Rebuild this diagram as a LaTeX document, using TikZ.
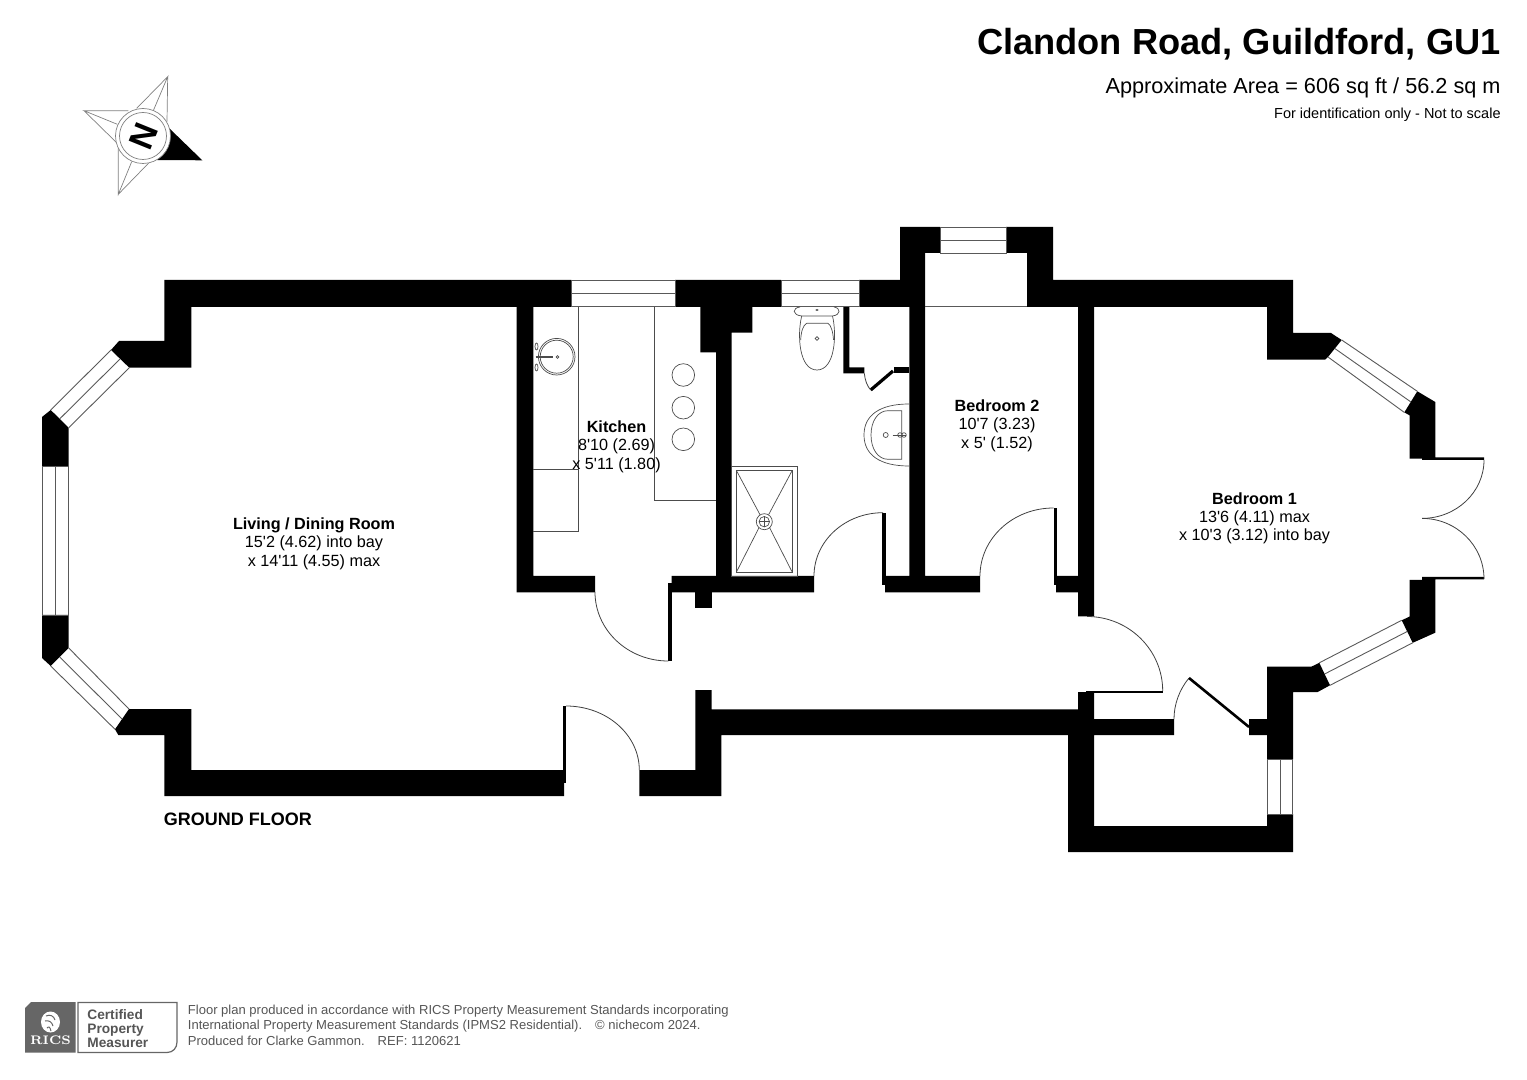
\documentclass[tikz,border=0pt]{standalone}
\usepackage{fontspec}
\newfontfamily\lib{Liberation Sans}
\definecolor{footgray}{HTML}{555555}
\definecolor{logogray}{HTML}{666666}
\tikzset{
  wall/.style={fill=black,draw=none},
  thinl/.style={draw=black!75,line width=0.4pt},
  winl/.style={draw=black!65,line width=0.45pt},
  fixt/.style={draw=black!70,line width=0.35pt},
  star/.style={draw=black!50,line width=0.35pt},
  roomlabel/.style={font=\lib\fontsize{8.1}{9.15}\selectfont,align=center,inner sep=0pt},
  titletext/.style={anchor=base east,inner sep=0pt},
  foot/.style={font=\lib\fontsize{6.52}{7.8}\selectfont,text=footgray,align=left,anchor=north west,inner sep=0pt}
}
\newcommand\doorarc[4]{\draw[thinl] (#1,#2) .. controls (#1,{#2+.5523*(#4-#2)}) and ({#3-.5523*(#3-#1)},#4) .. (#3,#4);}
\begin{document}
\begin{tikzpicture}[x=0.5pt,y=-0.5pt]
\useasboundingbox (0,0) rectangle (1527,1080);
% title
\node[titletext,font=\lib\bfseries\fontsize{18.12}{20}\selectfont] (title) at (1501,55) {Clandon Road, Guildford, GU1};
\node[titletext,font=\lib\fontsize{10.85}{12}\selectfont] (area) at (1501,94) {Approximate Area = 606 sq ft / 56.2 sq m};
\node[titletext,font=\lib\fontsize{7.25}{9}\selectfont] (ident) at (1501,119) {For identification only - Not to scale};
% compass
\draw[star] (136.7,108.3)--(167.7,76.7)--(153.3,110.7) (167.7,76.7)--(167,121.7);
\draw[star] (128.3,110.7)--(84,110.7)--(117.3,124.3) (84,110.7)--(120,146);
\draw[star] (118.3,148.3)--(118.3,194.3)--(131.7,161.7) (118.3,194.3)--(150,161.7);
\fill[black] (169.3,128.3)--(202.3,160.3)--(156.7,160)--cycle;
\draw[star,fill=white] (143,136) circle[radius=27.5];
\draw[star] (143,136) circle[radius=23.5];
\node[font=\lib\bfseries\fontsize{17}{17}\selectfont,rotate=-112,inner sep=0pt] (north) at (143.5,136.5) {N};
% walls
\fill[wall] (42,466)--(42,417)--(50.7,410)--(68.7,427.7)--(68.7,466)--cycle;
\fill[wall] (111,350)--(119,341)--(164.3,341)--(164.3,280)--(571.3,280)--(571.3,307)--(191.3,307)--(191.3,367.7)--(129.3,367.7)--cycle;
\fill[wall] (42,615)--(68.7,615)--(68.7,648)--(50.7,666)--(42,658)--cycle;
\fill[wall] (129,709)--(191.3,709)--(191.3,770)--(564,770)--(564,796)--(164.3,796)--(164.3,735)--(118.3,735)--(115,729.3)--cycle;
\fill[wall] (516.7,307)--(533.3,307)--(533.3,576)--(595,576)--(595,592.3)--(516.7,592.3)--cycle;
\fill[wall] (675,280)--(781,280)--(781,307)--(752.3,307)--(752.3,332.7)--(731.7,332.7)--(731.7,576)--(814,576)--(814,592.3)--(671.5,592.3)--(671.5,576)--(716,576)--(716,352.3)--(700.3,352.3)--(700.3,307)--(675,307)--cycle;
\fill[wall] (695.3,592)rectangle(711.7,608.3);
\fill[wall] (668.3,583)rectangle(671.7,661);
\fill[wall] (639.3,770)--(695.3,770)--(695.3,690)--(711.7,690)--(711.7,709.3)--(1078,709.3)--(1078,692)--(1094,692)--(1094,719)--(1174,719)--(1174,735)--(1094,735)--(1094,826)--(1267,826)--(1267,814)--(1293,814)--(1293,852)--(1068,852)--(1068,735)--(721.3,735)--(721.3,796)--(639.3,796)--cycle;
\fill[wall] (1085.7,690.6)rectangle(1162.7,693);
\fill[wall] (859,280)--(900,280)--(900,227)--(940,227)--(940,253)--(925,253)--(925,576)--(980,576)--(980,592.3)--(885,592.3)--(885,576)--(909.3,576)--(909.3,307)--(859,307)--cycle;
\fill[wall] (1006,227)--(1053,227)--(1053,280)--(1293,280)--(1293,333)--(1331,333)--(1341.7,340)--(1328,357)--(1325,359.7)--(1267,359.7)--(1267,307)--(1094,307)--(1094,616.5)--(1078,616.5)--(1078,592.3)--(1056,592.3)--(1056,576)--(1078,576)--(1078,307)--(1027,307)--(1027,253)--(1006,253)--cycle;
\fill[wall] (1053.5,508)rectangle(1057,585);
\fill[wall] (882.3,512.7)rectangle(885.7,585);
\fill[wall] (563.3,706)rectangle(566,783);
\fill[wall] (1417.3,391.3)--(1435.3,402)--(1435.3,457.5)--(1484,457.5)--(1484,460)--(1422,460)--(1422,458.6)--(1409.7,458.6)--(1409.7,415.4)--(1404.3,412.4)--cycle;
\fill[wall] (1422,580)--(1422,577)--(1484,577)--(1484,579.5)--(1435.3,579.5)--(1435.3,632.7)--(1412.7,642.8)--(1401.7,620.3)--(1409.7,616.5)--(1409.7,580)--cycle;
\fill[wall] (1311.7,666.5)--(1319.3,662.8)--(1330,685.3)--(1317.7,692)--(1293,692)--(1293,759.4)--(1267,759.4)--(1267,735)--(1249,735)--(1249,719)--(1267,719)--(1267,666.5)--cycle;
% cupboard
\fill[wall] (843.3,307)--(849.3,307)--(849.3,367.3)--(864.3,367.3)--(864.3,373.3)--(843.3,373.3)--cycle;
\fill[wall] (894.3,367.3)rectangle(909.3,373.3);
\draw[black,line width=1.6pt] (893,371)--(870.7,390);
\draw[thinl] (864.3,373.3) .. controls (865,380) and (867,386) .. (870.7,390);
% windows
\draw[winl] (571.3,280.5)rectangle(675,306.7) (571.3,293.3)--(675,293.3);
\draw[winl] (781,280.5)rectangle(859,306.7) (781,293.3)--(859,293.3);
\draw[winl] (940,227.5)rectangle(1006,253) (940,240)--(1006,240);
\draw[winl] (42.3,466)rectangle(68.7,615) (55.5,466)--(55.5,615);
\draw[winl] (1267.3,759.4)rectangle(1292.7,814) (1280,759.4)--(1280,814);
\draw[winl] (111,350)--(50.7,410) (129.3,367.7)--(68.7,427.7) (120.2,358.8)--(59.7,418.9);
\draw[winl] (68.7,648)--(129,709) (50.7,666)--(115,729.3) (59.7,657)--(122,719);
\draw[winl] (1341.7,340)--(1417.3,391.3) (1328,357)--(1404.3,412.4) (1334.8,348.5)--(1410.8,401.9);
\draw[winl] (1319.3,662.8)--(1401.7,620.3) (1330,685.3)--(1412.7,642.8) (1324.6,674)--(1407.2,631.5);
\draw[winl] (925,306.5)--(1027,306.5);
% doors
\doorarc{595}{592}{668.3}{661}
\doorarc{639.3}{770}{566}{706}
\doorarc{814}{576}{883}{512.7}
\doorarc{980}{576}{1053.5}{508}
\doorarc{1162.7}{691}{1087}{616.5}
\doorarc{1484}{460}{1422}{518.4}
\doorarc{1484}{579}{1422}{518.4}
\draw[thinl] (1174,719) .. controls (1174,705) and (1179,690) .. (1189,678);
\draw[black,line width=1.3pt] (1189,678)--(1249,727);
% kitchen units
\draw[fixt] (578.3,307)--(578.3,531)--(533.3,531) (533.3,469.3)--(578.3,469.3);
\draw[fixt] (654.7,307)--(654.7,500)--(716,500);
\draw[fixt] (683.3,375) circle[radius=11.3] (683.3,407.7) circle[radius=11.3] (683.3,439.3) circle[radius=11.3];
\draw[fixt] (556.7,356.7) circle[radius=18.3] (556.7,356.7) circle[radius=16.5];
\draw[black!70,line width=0.9pt] (535.5,357)--(553,357);
\draw[fixt] (557.5,357) circle[radius=1.4];
\draw[fixt] (536.5,346.5) ellipse[x radius=1.5,y radius=3.5] (536.5,367.5) ellipse[x radius=1.5,y radius=3.5];
% toilet
\draw[fixt] (800,307) .. controls (792,308) and (792,315) .. (801.7,316) -- (832.5,316) .. controls (841,315) and (841,308) .. (834,307);
\draw[fixt] (801.7,316) .. controls (797,335) and (799,370) .. (817,370) .. controls (835,370) and (837,335) .. (832.5,316);
\draw[fixt] (800.7,340) .. controls (801,332) and (803,325) .. (806.7,323.3) -- (828,323.3) .. controls (831,325) and (833,332) .. (833.5,340);
\draw[fixt] (817,338.5) circle[radius=1.9];
\fill[black!70] (817,310) ellipse[x radius=1.7,y radius=1];
% basin
\draw[fixt] (909,404) .. controls (880,404) and (864,415) .. (864,435) .. controls (864,455) and (880,466) .. (909,466);
\draw[fixt] (901.7,410.7) -- (888,410.7) .. controls (878,410.7) and (871,421) .. (871,435) .. controls (871,449) and (878,459.3) .. (888,459.3) -- (901.7,459.3) -- cycle;
\draw[fixt] (885.7,435) circle[radius=2.5] (900,435) circle[radius=2.3] (904,435) circle[radius=2.3];
\draw[fixt] (892.7,435) -- (906,435);
% shower
\draw[fixt] (731.7,466)rectangle(797.3,576);
\draw[fixt,line width=0.55pt] (736.3,470.3)rectangle(792.3,572.3);
\draw[fixt] (764.3,521.7) circle[radius=8] (764.3,521.7) circle[radius=5.2];
\draw[fixt] (759.1,521.7)--(769.5,521.7) (764.3,516.5)--(764.3,526.9);
\draw[fixt] (736.3,470.3)--(760,514.7) (792.3,470.3)--(768.6,514.7) (736.3,572.3)--(759,527.7) (792.3,572.3)--(769.6,527.7);
% labels
\node[roomlabel] (living) at (314,543.7) {{\bfseries Living / Dining Room}\\15'2 (4.62) into bay\\x 14'11 (4.55) max};
\node[roomlabel] (kitchen) at (616.5,446.7) {{\bfseries Kitchen}\\8'10 (2.69)\\x 5'11 (1.80)};
\node[roomlabel] (bed2) at (997,425.7) {{\bfseries Bedroom 2}\\10'7 (3.23)\\x 5' (1.52)};
\node[roomlabel] (bed1) at (1254.5,518.5) {{\bfseries Bedroom 1}\\13'6 (4.11) max\\x 10'3 (3.12) into bay};
\node[font=\lib\bfseries\fontsize{9}{10}\selectfont,anchor=base west,inner sep=0pt] (ground) at (163.5,825) {GROUND FLOOR};
% footer logo
\fill[logogray] (31,1002)--(75.5,1002)--(75.5,1052.5)--(25,1052.5)--(25,1008)--cycle;
\draw[logogray,line width=0.6pt] (78,1002.5)--(177,1002.5)--(177,1042) .. controls (177,1048) and (173,1052.5) .. (167,1052.5)--(78,1052.5)--cycle;
\fill[white] (50.5,1022) ellipse[x radius=9.5,y radius=10.5];
\draw[logogray,line width=0.5pt] (46,1016) .. controls (50,1014) and (54,1016) .. (55,1020) (45,1021) .. controls (49,1020) and (52,1022) .. (53,1026) (47,1028) .. controls (49,1026) and (50,1027) .. (51,1031);
\node[font=\bfseries\fontsize{6.2}{7}\selectfont,text=white,inner sep=0pt] (rics) at (50.5,1040) {RICS};
\node[font=\lib\bfseries\fontsize{6.85}{7}\selectfont,text=footgray,align=left,anchor=west,inner sep=0pt] (cert) at (87,1028.5) {Certified\\Property\\Measurer};
\node[foot] (footer) at (187.5,1004.3) {Floor plan produced in accordance with RICS Property Measurement Standards incorporating\\International Property Measurement Standards (IPMS2 Residential).\quad © nichecom 2024.\\Produced for Clarke Gammon.\quad REF: 1120621};
\end{tikzpicture}
\end{document}
